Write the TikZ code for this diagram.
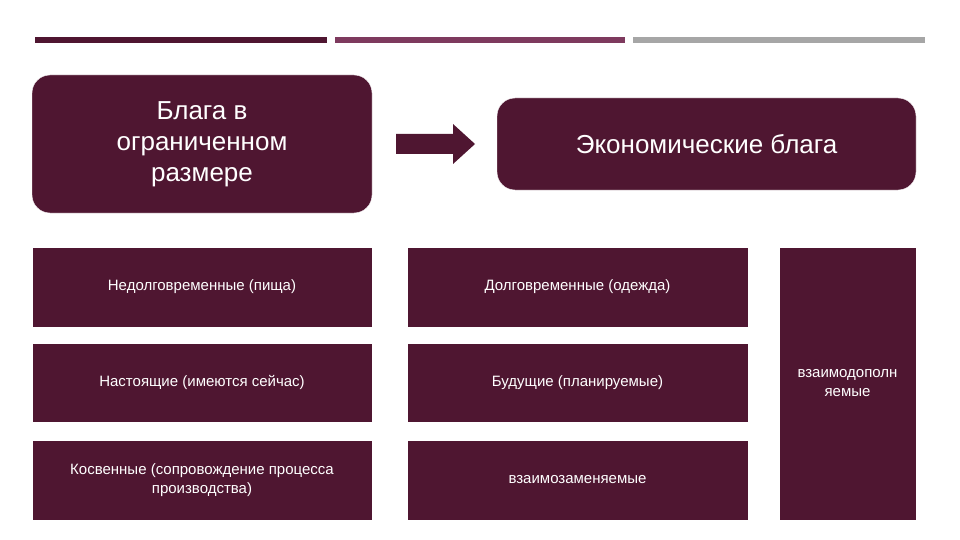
\documentclass[tikz,border=0pt]{standalone}
\usepackage{fontspec}
\setmainfont{Liberation Sans}
\definecolor{mar}{HTML}{4F1631}
\definecolor{mag}{HTML}{7E3A5E}
\definecolor{gr}{HTML}{A6A6A6}
\begin{document}
\begin{tikzpicture}[x=1pt,y=-1pt,
  rbox/.style={fill=mar,draw=white,rounded corners=18pt,text=white,align=center,font=\fontsize{26}{31}\selectfont},
  sbox/.style={fill=mar,draw=white,text=white,align=center,font=\fontsize{15}{19}\selectfont}]
\useasboundingbox (0,0) rectangle (960,540);
\fill[mar] (35,37) rectangle (327,43);
\fill[mag] (335,37) rectangle (625,43);
\fill[gr] (633,37) rectangle (925,43);
\node[rbox,minimum width=340pt,minimum height=138pt] (a) at (202,144) {Блага в\\ограниченном\\размере};
\node[rbox,minimum width=419pt,minimum height=92pt] (b) at (706.5,144) {Экономические блага};
\fill[mar] (396,134) -- (453,134) -- (453,124) -- (475,144) -- (453,164) -- (453,154) -- (396,154) -- cycle;
\coordinate (arr) at (435,144);
\node[sbox,minimum width=340pt,minimum height=80pt] (c1) at (202,287) {Недолговременные (пища)};
\node[sbox,minimum width=341pt,minimum height=80pt] (c2) at (577.5,287) {Долговременные (одежда)};
\node[sbox,minimum width=340pt,minimum height=79pt] (d1) at (202,382.5) {Настоящие (имеются сейчас)};
\node[sbox,minimum width=341pt,minimum height=79pt] (d2) at (577.5,382.5) {Будущие (планируемые)};
\node[sbox,minimum width=340pt,minimum height=80pt] (e1) at (202,480) {Косвенные (сопровождение процесса\\производства)};
\node[sbox,minimum width=341pt,minimum height=80pt] (e2) at (577.5,480) {взаимозаменяемые};
\node[sbox,minimum width=137pt,minimum height=273pt] (f) at (847.5,383.5) {взаимодополн\\яемые};
\end{tikzpicture}
\end{document}
